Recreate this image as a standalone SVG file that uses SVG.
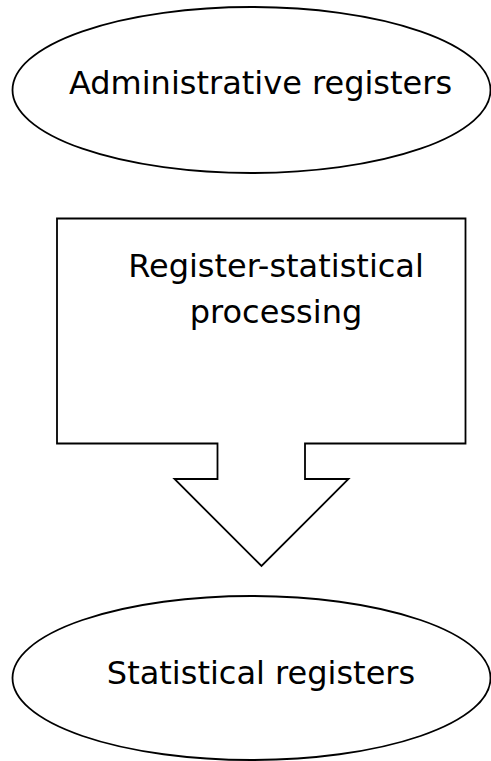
<svg xmlns="http://www.w3.org/2000/svg" width="491" height="761" viewBox="0 0 491 761">
<style>
.shape{fill:#ffffff;stroke:#000000;stroke-width:1.8}
.lbl{font-family:"DejaVu Sans",Verdana,sans-serif;font-size:32px;fill:#000000;text-anchor:middle}
</style>
<rect x="0" y="0" width="491" height="761" fill="#ffffff"/>
<g id="admin-registers">
<ellipse class="shape" cx="251.5" cy="90" rx="239" ry="83"/>
<text class="lbl" x="260.5" y="94">Administrative registers</text>
</g>
<g id="processing">
<path class="shape" d="M57,218.5 H465.5 V443.5 H305 V479 H348.5 L261.5,566 L174.5,479 H217.5 V443.5 H57 Z"/>
<text class="lbl" x="276" y="277">Register-statistical</text>
<text class="lbl" x="276" y="323">processing</text>
</g>
<g id="connectors"></g>
<g id="statistical-registers">
<ellipse class="shape" cx="251.5" cy="678" rx="239" ry="82"/>
<text class="lbl" x="261" y="684">Statistical registers</text>
</g>
</svg>
